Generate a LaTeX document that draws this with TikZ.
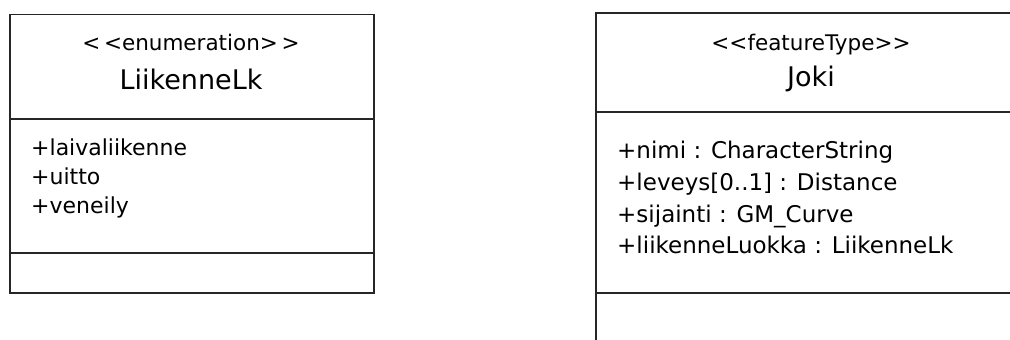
\documentclass[tikz,border=0pt]{standalone}
\usepackage{fontspec}
\setmainfont{DejaVu Sans}
\begin{document}
\begin{tikzpicture}[x=1pt,y=-1pt,
  umlbox/.style={draw=black!85, line width=1.7pt},
  stereo/.style={font=\fontsize{21.5}{25}\selectfont, anchor=base, inner sep=0pt},
  cname/.style={font=\fontsize{27}{32}\selectfont, anchor=base, inner sep=0pt},
  attr/.style={font=\fontsize{22}{28}\selectfont, anchor=base west, inner sep=0pt},
  attrb/.style={font=\fontsize{23}{28}\selectfont, anchor=base west, inner sep=0pt},
]
\useasboundingbox (0,0) rectangle (1010,340);
\clip (0,0) rectangle (1010,340);

% enumeration LiikenneLk
\node[umlbox, anchor=north west, minimum width=364pt, minimum height=278.5pt] (enum) at (9,13.5) {};
\coordinate (enumA) at (9,119);
\coordinate (enumB) at (9,253);
\draw[umlbox] (enumA) -- (enumA -| enum.east);
\draw[umlbox] (enumB) -- (enumB -| enum.east);
\node[stereo] (enumStereo) at (191,50) {{<}\,{<}enumeration{>}\,{>}};
\node[cname] (enumName) at (191,89) {LiikenneLk};
\node[attr] (enumL1) at (31,155) {+laivaliikenne};
\node[attr] (enumL2) at (31,184) {+uitto};
\node[attr] (enumL3) at (31,213) {+veneily};

% featureType Joki
\node[umlbox, anchor=north west, minimum width=435pt, minimum height=360pt] (joki) at (595,12) {};
\coordinate (jokiA) at (595,112);
\coordinate (jokiB) at (595,293);
\draw[umlbox] (jokiA) -- (jokiA -| joki.east);
\draw[umlbox] (jokiB) -- (jokiB -| joki.east);
\node[stereo] (jokiStereo) at (811,50) {{<}{<}featureType{>}{>}};
\node[cname] (jokiName) at (811,86) {Joki};
\node[attrb] (jokiA1) at (617,158) {+nimi : CharacterString};
\node[attrb] (jokiA2) at (617,190) {+leveys[0..1] : Distance};
\node[attrb] (jokiA3) at (617,222) {+sijainti : GM\_Curve};
\node[attrb] (jokiA4) at (617,253) {+liikenneLuokka : LiikenneLk};
\end{tikzpicture}
\end{document}
